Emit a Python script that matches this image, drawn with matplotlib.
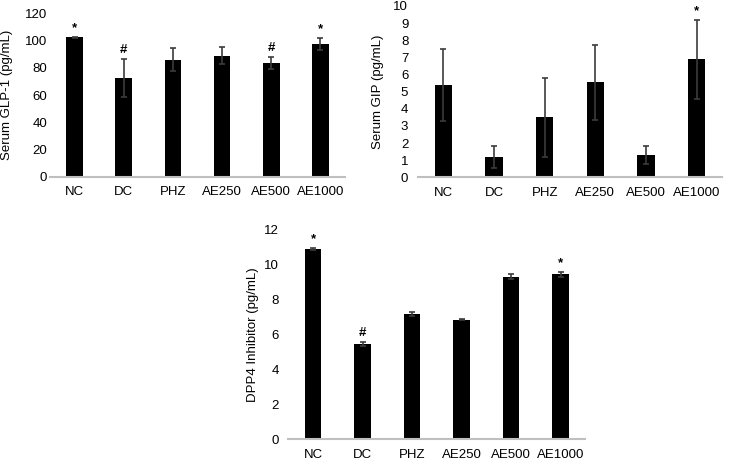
import matplotlib
matplotlib.use("Agg")
from matplotlib import pyplot as plt
import numpy as np

plt.rcParams['font.family'] = ['Liberation Sans', 'DejaVu Sans']

groups = ['NC', 'DC', 'PHZ', 'AE250', 'AE500', 'AE1000']

glp1 = [102.3, 72.3, 86.0, 89.0, 83.3, 97.5]
glp1_err = [0.5, 14.0, 8.3, 6.6, 4.5, 4.2]
glp1_marks = ['*', '#', '', '', '#', '*']

gip = [5.4, 1.2, 3.5, 5.55, 1.3, 6.9]
gip_err = [2.1, 0.65, 2.3, 2.2, 0.55, 2.3]
gip_marks = ['', '', '', '', '', '*']

dpp4 = [10.87, 5.45, 7.16, 6.83, 9.3, 9.43]
dpp4_err = [0.08, 0.12, 0.13, 0.04, 0.14, 0.13]
dpp4_marks = ['*', '#', '', '', '', '*']

W, H = 730, 462
fig = plt.figure(figsize=(W / 100, H / 100), dpi=100)


def px_axes(x0, x1, y_top, y_bot):
    # pixel box -> figure fraction
    return fig.add_axes([x0 / W, 1 - y_bot / H, (x1 - x0) / W, (y_bot - y_top) / H])


def bar_panel(ax, vals, errs, marks, ymax, ystep, ylabel, ypad):
    x = np.arange(len(groups))
    ax.bar(x, vals, width=0.34, color='black', zorder=2)
    ax.errorbar(x, vals, yerr=errs, fmt='none', ecolor='#3c3c3c',
                elinewidth=1.2, capsize=2.2, capthick=1.2, zorder=3)
    for xi, v, e, m in zip(x, vals, errs, marks):
        if m:
            ax.annotate(m, (xi, v + e), xytext=(0, 2), textcoords='offset points',
                        ha='center', va='bottom', fontsize=9.5, fontweight='bold')
    ax.set_xlim(-0.5, len(groups) - 0.5)
    ax.set_ylim(0, ymax)
    ax.set_yticks(np.arange(0, ymax + ystep / 2, ystep))
    ax.set_xticks(x)
    ax.set_xticklabels(groups)
    for s in ['top', 'right', 'left']:
        ax.spines[s].set_visible(False)
    ax.spines['bottom'].set_color('#bfbfbf')
    ax.spines['bottom'].set_linewidth(1.5)
    ax.tick_params(axis='both', length=0, labelsize=9.5, labelcolor='black')
    ax.tick_params(axis='x', pad=7)
    ax.tick_params(axis='y', pad=ypad)
    ax.set_ylabel(ylabel, fontsize=9.5)
    ax.patch.set_alpha(0)


ax1 = px_axes(50, 345, 13.3, 176.7)
bar_panel(ax1, glp1, glp1_err, glp1_marks, 120, 20, 'Serum GLP-1 (pg/mL)', 2)
ax1.yaxis.set_label_coords(-0.125, 0.5)

ax2 = px_axes(418, 722, 6, 177.3)
bar_panel(ax2, gip, gip_err, gip_marks, 10, 1, 'Serum GIP (pg/mL)', 7)
ax2.yaxis.set_label_coords(-0.112, 0.5)

ax3 = px_axes(288.3, 585.3, 229.3, 439.3)
bar_panel(ax3, dpp4, dpp4_err, dpp4_marks, 12, 2, 'DPP4 Inhibitor (pg/mL)', 7)
ax3.yaxis.set_label_coords(-0.1, 0.5)

fig.savefig('out.png', dpi=100)
